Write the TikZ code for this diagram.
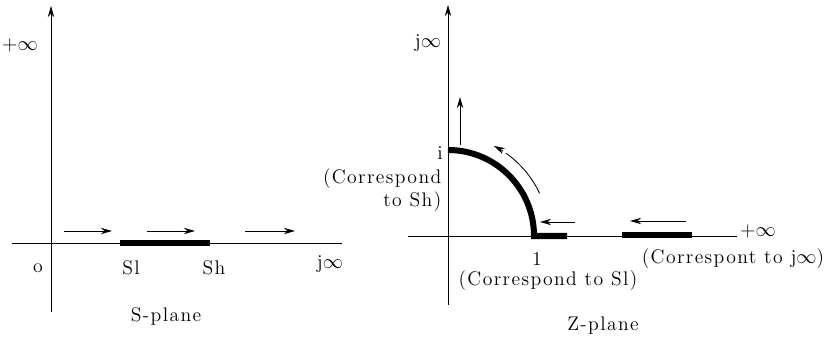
\documentclass[tikz,border=0pt]{standalone}
\usepackage{fontspec}
\newfontfamily\lblfont[LetterSpace=7]{Latin Modern Roman}
\usetikzlibrary{arrows.meta, positioning}
\begin{document}
\begin{tikzpicture}[
    x=0.025cm, y=0.025cm,
    axis/.style={semithick},
    arr/.style={-{Stealth[length=2.8mm, width=1.6mm]}, semithick},
    band/.style={line width=3.8pt},
    lbl/.style={font=\lblfont\fontsize{14}{16.5}\selectfont, inner sep=1pt}
  ]
    \useasboundingbox (0,0) rectangle (827,339);

    % S-plane
    \coordinate (sy0) at (51,27);
    \coordinate (sy1) at (51,333);
    \coordinate (sx0) at (12,96);
    \coordinate (sx1) at (342,96);
    \coordinate (sl) at (120,96);
    \coordinate (sh) at (210,96);
    \draw[arr] (sy0) -- (sy1);
    \draw[axis] (sx0) -- (sx1);
    \draw[band] (sl) -- (sh);
    \foreach \a/\b [count=\i] in {64/112, 147/195, 245/295} {
      \coordinate (sa\i) at (\a,108);
      \coordinate (sb\i) at (\b,108);
      \draw[arr] (sa\i) -- (sb\i);
    }
    \node[lbl] (spinf) at (20,294) {$+\infty$};
    \node[lbl] (so) at (38,71) {o};
    \node[lbl] (slbl) at (131,71) {Sl};
    \node[lbl] (shlbl) at (214,71) {Sh};
    \node[lbl] (sjinf) at (330,75) {j$\infty$};
    \node[lbl] (splane) at (166,23) {S-plane};

    % Z-plane
    \coordinate (zy0) at (448,34);
    \coordinate (zy1) at (448,334);
    \coordinate (zx0) at (408,103);
    \coordinate (zx1) at (737,103);
    \coordinate (zc) at (448,103);
    \coordinate (zi) at (448,189);
    \coordinate (zone) at (567,103);
    \coordinate (zf0) at (622,104);
    \coordinate (zf1) at (692,104);
    \draw[arr] (zy0) -- (zy1);
    \draw[axis] (zx0) -- (zx1);
    \draw[band, line width=4.3pt] (zi) arc[start angle=90, end angle=0, radius=2.15cm] -- (zone);
    \draw[band] (zf0) -- (zf1);
    \coordinate (zu0) at (460,194);
    \coordinate (zu1) at (460,242);
    \draw[arr] (zu0) -- (zu1);
    \draw[semithick] ([shift={(25:2.525cm)}]zc) arc[start angle=25, end angle=55, radius=2.525cm];
    \draw[arr] ([shift={(57:2.525cm)}]zc) arc[start angle=57, end angle=63, radius=2.525cm];
    \coordinate (za0) at (575,117);
    \coordinate (za1) at (540,117);
    \draw[arr] (za0) -- (za1);
    \coordinate (zb0) at (686,118);
    \coordinate (zb1) at (630,118);
    \draw[arr] (zb0) -- (zb1);
    \node[lbl] (zjinf) at (428,296) {j$\infty$};
    \node[lbl] (zpinf) at (758,108) {$+\infty$};
    \node[lbl] (zilbl) at (440,186) {i};
    \node[lbl, align=right, anchor=east] (zsh) at (443,149) {(Correspond\\to Sh)};
    \node[lbl] (zonelbl) at (537,80) {1};
    \node[lbl] (zsl) at (548,58) {(Correspond to Sl)};
    \node[lbl] (zjl) at (733,80) {(Correspont to j$\infty$)};
    \node[lbl] (zplane) at (603,13) {Z-plane};
\end{tikzpicture}
\end{document}
